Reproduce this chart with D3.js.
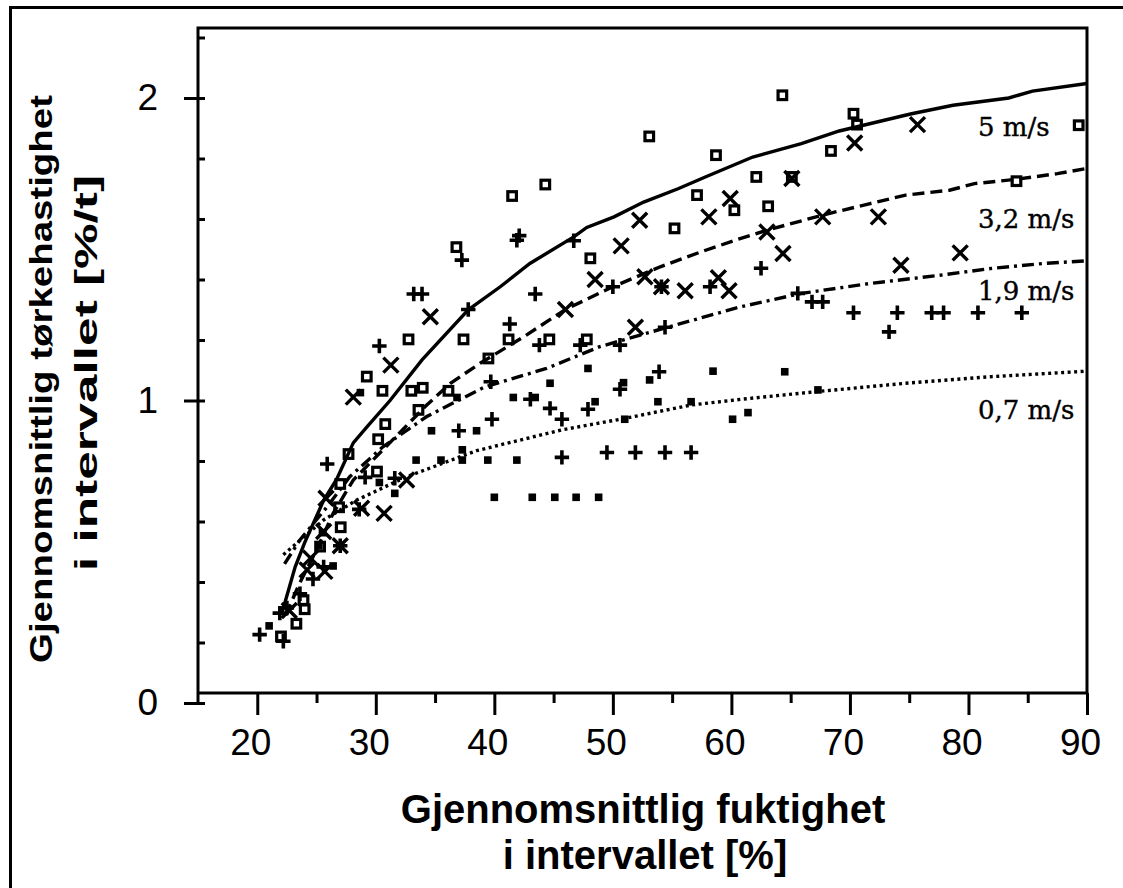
<!DOCTYPE html>
<html>
<head>
<meta charset="utf-8">
<script src="https://cdn.jsdelivr.net/npm/d3@7"></script>
<style>
  body { margin: 0; background: #fff; }
  svg { display: block; }
</style>
</head>
<body>
<div id="chart"></div>
<script>
"use strict"

// ---- data ----
const curveLabels = ["5 m/s", "3,2 m/s", "1,9 m/s", "0,7 m/s"];

const xMajorTicks = [20, 30, 40, 50, 60, 70, 80, 90];
const xMinorTicks = [25, 35, 45, 55, 65, 75, 85];
const yMajorTicks = [0, 1, 2];
const yMinorTicks = [0.2, 0.4, 0.6, 0.8, 1.2, 1.4, 1.6, 1.8, 2.2];

// fitted curves [fuktighet %, tørkehastighet %/t]
const curve5 = [[22.1,0.30],[23.2,0.45],[24,0.53],[25.6,0.67],[26.7,0.74],[28.1,0.86],[29.2,0.91],
  [31.2,1.0],[33.9,1.134],[37.8,1.30],[40.5,1.376],[43,1.453],[46.7,1.541],[47.8,1.572],[50.1,1.607],
  [52.6,1.656],[55.5,1.70],[57.8,1.739],[61.8,1.805],[65.9,1.849],[69.1,1.891],[75.2,1.948],
  [78.7,1.976],[83.4,2.0],[85.4,2.023],[90,2.048]];
const curve32 = [[22.4,0.29],[23.5,0.39],[25,0.506],[26.4,0.627],[28.1,0.737],[30.6,0.837],[34.3,0.985],
  [36.3,1.057],[38.8,1.123],[42.5,1.211],[46,1.301],[50,1.376],[54,1.442],[57.4,1.491],[60.8,1.536],
  [63,1.563],[67.7,1.613],[71.7,1.651],[74.7,1.679],[78.4,1.695],[80.5,1.717],[84,1.731],[87.5,1.75],[90,1.767]];
const curve19 = [[22.3,0.46],[23.6,0.539],[25.9,0.649],[27.8,0.748],[30.6,0.847],[34.3,0.947],[39.2,1.045],
  [44.4,1.106],[48.9,1.178],[54.6,1.242],[60.8,1.31],[65.9,1.354],[71.7,1.387],[77.6,1.414],[82,1.437],
  [86.3,1.453],[90,1.462]];
const curve07 = [[22.2,0.49],[23,0.517],[25.6,0.605],[28.4,0.671],[32.6,0.748],[38.5,0.834],[45.7,0.903],
  [50.9,0.94],[56.6,0.985],[60.8,1.004],[67.1,1.029],[74.7,1.057],[82,1.079],[90,1.097]];

// measurements
const points5 = [[22.0,0.22],[23.3,0.262],[24.0,0.31],[23.9,0.34],[25.3,0.517],[26.9,0.647],[27.04,0.581],
  [27.0,0.724],[27.7,0.823],[29.24,1.079],[30.1,0.765],[30.2,0.872],[30.56,1.032],[30.8,0.922],[32.76,1.202],
  [33.0,1.032],[33.6,0.969],[33.96,1.042],[36.13,1.032],[36.8,1.507],[37.4,1.202],[39.5,1.139],[41.2,1.202],
  [41.5,1.676],[44.3,1.714],[44.64,1.202],[47.8,1.202],[48.1,1.47],[53.07,1.873],[55.2,1.569],[57.1,1.679],
  [58.7,1.811],[60.25,1.629],[62.1,1.739],[63.1,1.642],[64.3,2.009],[65.1,1.739],[68.4,1.825],[70.3,1.948],
  [70.6,1.912],[84.05,1.725],[89.3,1.91]];
const points32 = [[22.7,0.306],[24.2,0.44],[24.5,0.479],[25.6,0.567],[25.7,0.435],[25.8,0.677],[27.0,0.52],
  [28.1,1.011],[28.8,0.644],[30.7,0.627],[31.27,1.117],[32.6,0.737],[34.6,1.277],[46.0,1.301],[48.5,1.40],
  [50.7,1.511],[51.9,1.242],[52.26,1.596],[52.7,1.409],[54.1,1.376],[56.1,1.363],[58.1,1.607],[58.9,1.406],
  [59.8,1.363],[59.9,1.668],[63.0,1.557],[64.35,1.486],[65.1,1.734],[67.7,1.607],[70.4,1.851],[72.4,1.607],
  [74.3,1.447],[75.7,1.912],[79.3,1.488]];
const points19 = [[20.2,0.226],[21.9,0.297],[22.2,0.204],[22.5,0.314],[23.6,0.361],[24.7,0.41],[25.6,0.45],
  [25.9,0.79],[27.0,0.52],[28.6,0.64],[29.1,0.746],[30.3,1.18],[31.6,0.743],[33.2,1.352],[33.9,1.352],
  [37.0,0.90],[37.26,1.464],[37.8,1.301],[39.7,1.062],[39.8,0.938],[41.3,1.253],[41.9,1.53],[42.1,1.545],
  [43.04,1.004],[43.45,1.352],[43.8,1.183],[44.7,0.974],[45.7,0.938],[45.7,0.812],[46.7,1.528],[47.25,1.183],
  [47.9,0.971],[49.5,0.828],[50.0,1.376],[50.6,1.183],[50.6,1.037],[51.9,0.828],[53.9,1.095],[54.1,1.376],
  [54.4,1.242],[54.4,0.828],[56.6,0.828],[58.2,1.376],[62.5,1.437],[65.6,1.354],[66.8,1.326],[67.7,1.326],
  [70.3,1.29],[73.3,1.227],[74.0,1.29],[76.9,1.29],[77.9,1.29],[80.8,1.29],[84.5,1.29]];
const points07 = [[21.0,0.255],[25.2,0.52],[25.5,0.563],[26.4,0.453],[28.7,1.026],[30.3,0.729],[31.6,0.693],
  [33.4,0.803],[34.7,0.90],[35.5,0.803],[36.85,1.01],[37.3,0.837],[37.3,0.803],[38.5,0.90],[39.45,0.803],
  [40.0,0.68],[41.6,1.01],[41.9,0.803],[43.2,0.68],[43.45,1.01],[44.7,1.057],[45.1,0.68],[46.9,0.68],
  [47.9,1.106],[48.5,0.996],[48.8,0.68],[50.9,1.059],[51.0,0.938],[53.1,1.068],[53.8,0.996],[56.6,0.996],
  [58.45,1.097],[60.1,0.938],[61.4,0.96],[64.5,1.095],[67.3,1.035]];

// ---- drawing ----
const W = 1123, H = 888;
const svg = d3.select("#chart").append("svg").attr("width", W).attr("height", H);

const x = d3.scaleLinear().domain([15, 90]).range([198, 1087]);
const y = d3.scaleLinear().domain([0, 2]).range([703, 98]);
const plotTop = y(2.231), axisY = 693;

// outer frame
svg.append("path")
  .attr("d", `M10.5,${H + 5} V7.5 H${W + 5}`)
  .attr("fill", "none").attr("stroke", "#000").attr("stroke-width", 3);

// plot frame + axis lines
svg.append("path")
  .attr("d", `M${x(15)},${y(0)} V${plotTop} H${x(90)} V${axisY}`)
  .attr("fill", "none").attr("stroke", "#000").attr("stroke-width", 3);
svg.append("line")
  .attr("x1", x(15)).attr("x2", x(90)).attr("y1", axisY).attr("y2", axisY)
  .attr("stroke", "#000").attr("stroke-width", 3);

const tickFont = "'Liberation Sans', Arial, sans-serif";

function styleAxis(g) {
  g.select(".domain").remove();
  g.selectAll(".tick line").attr("stroke", "#000").attr("stroke-width", 3);
  g.selectAll(".tick text").attr("fill", "#000")
    .attr("font-family", tickFont).attr("font-size", 37);
}

// x axis (labels sit a little left of their ticks in the original)
svg.append("g").attr("transform", `translate(0,${axisY})`)
  .call(d3.axisBottom(x).tickValues(xMajorTicks).tickSize(22).tickPadding(14).tickFormat(d3.format("d")))
  .call(styleAxis)
  .call(g => g.selectAll(".tick text").attr("dx", -7));
svg.append("g").attr("transform", `translate(0,${axisY})`)
  .call(d3.axisBottom(x).tickValues(xMinorTicks).tickSize(10).tickFormat(""))
  .call(styleAxis);

// y axis
svg.append("g").attr("transform", `translate(${x(15)},0)`)
  .call(d3.axisLeft(y).tickValues(yMajorTicks).tickSize(14).tickPadding(26).tickFormat(d3.format("d")))
  .call(styleAxis);
svg.append("g").attr("transform", `translate(${x(15)},0)`)
  .call(d3.axisLeft(y).tickValues(yMajorTicks.concat(yMinorTicks)).tickSize(-7).tickFormat(""))
  .call(styleAxis);

// curves
const line = d3.line().x(d => x(d[0])).y(d => y(d[1]));
const curves = [
  {data: curve5, dash: null},
  {data: curve32, dash: "12,6"},
  {data: curve19, dash: "12,5,3,5"},
  {data: curve07, dash: "3,3.5"}
];
svg.selectAll("path.curve")
  .data(curves)
  .enter()
    .append("path")
      .attr("class", "curve")
      .attr("d", d => line(d.data))
      .attr("fill", "none")
      .attr("stroke", "#000")
      .attr("stroke-width", 3.4)
      .attr("stroke-dasharray", d => d.dash);

// markers
const markers = svg.append("g");

markers.selectAll("rect.m5")
  .data(points5)
  .enter()
    .append("rect")
      .attr("x", d => x(d[0]) - 4.3).attr("y", d => y(d[1]) - 4.3)
      .attr("width", 8.6).attr("height", 8.6)
      .attr("fill", "none").attr("stroke", "#000").attr("stroke-width", 3.2);

markers.selectAll("path.m32")
  .data(points32)
  .enter()
    .append("path")
      .attr("d", d => {
        const cx = x(d[0]), cy = y(d[1]), r = 7.5;
        return `M${cx - r},${cy - r}L${cx + r},${cy + r}M${cx - r},${cy + r}L${cx + r},${cy - r}`;
      })
      .attr("stroke", "#000").attr("stroke-width", 3.4);

markers.selectAll("path.m19")
  .data(points19)
  .enter()
    .append("path")
      .attr("d", d => {
        const cx = x(d[0]), cy = y(d[1]), r = 7.2;
        return `M${cx - r},${cy}H${cx + r}M${cx},${cy - r}V${cy + r}`;
      })
      .attr("stroke", "#000").attr("stroke-width", 3.6);

markers.selectAll("rect.m07")
  .data(points07)
  .enter()
    .append("rect")
      .attr("x", d => x(d[0]) - 3.8).attr("y", d => y(d[1]) - 3.8)
      .attr("width", 7.6).attr("height", 7.6)
      .attr("fill", "#000");

// curve labels
const labelBaselines = [136, 228, 300, 419];
svg.selectAll("text.curve-label")
  .data(curveLabels)
  .enter()
    .append("text")
      .attr("class", "curve-label")
      .attr("x", 978)
      .attr("y", (d, i) => labelBaselines[i])
      .attr("font-family", "'DejaVu Serif', serif")
      .attr("font-size", 26)
      .attr("fill", "#000")
      .attr("stroke", "#000")
      .attr("stroke-width", 0.4)
      .text(d => d);

// axis titles
const titleFont = "'Liberation Sans', Arial, sans-serif";
const yTitle = svg.append("g")
  .attr("transform", "rotate(-90)")
  .attr("font-family", titleFont).attr("font-weight", "bold")
  .attr("font-size", 32).attr("text-anchor", "middle").attr("fill", "#000");
yTitle.append("text").attr("x", -379).attr("y", 52)
  .attr("textLength", 568).attr("lengthAdjust", "spacingAndGlyphs")
  .text("Gjennomsnittlig tørkehastighet");
yTitle.append("text").attr("x", -373).attr("y", 97)
  .attr("textLength", 396).attr("lengthAdjust", "spacingAndGlyphs")
  .text("i intervallet [%/t]");

const xTitle = svg.append("g")
  .attr("font-family", titleFont).attr("font-weight", "bold")
  .attr("font-size", 40).attr("text-anchor", "middle").attr("fill", "#000");
xTitle.append("text").attr("x", 643).attr("y", 823).text("Gjennomsnittlig fuktighet");
xTitle.append("text").attr("x", 645).attr("y", 869).text("i intervallet [%]");
</script>
</body>
</html>
